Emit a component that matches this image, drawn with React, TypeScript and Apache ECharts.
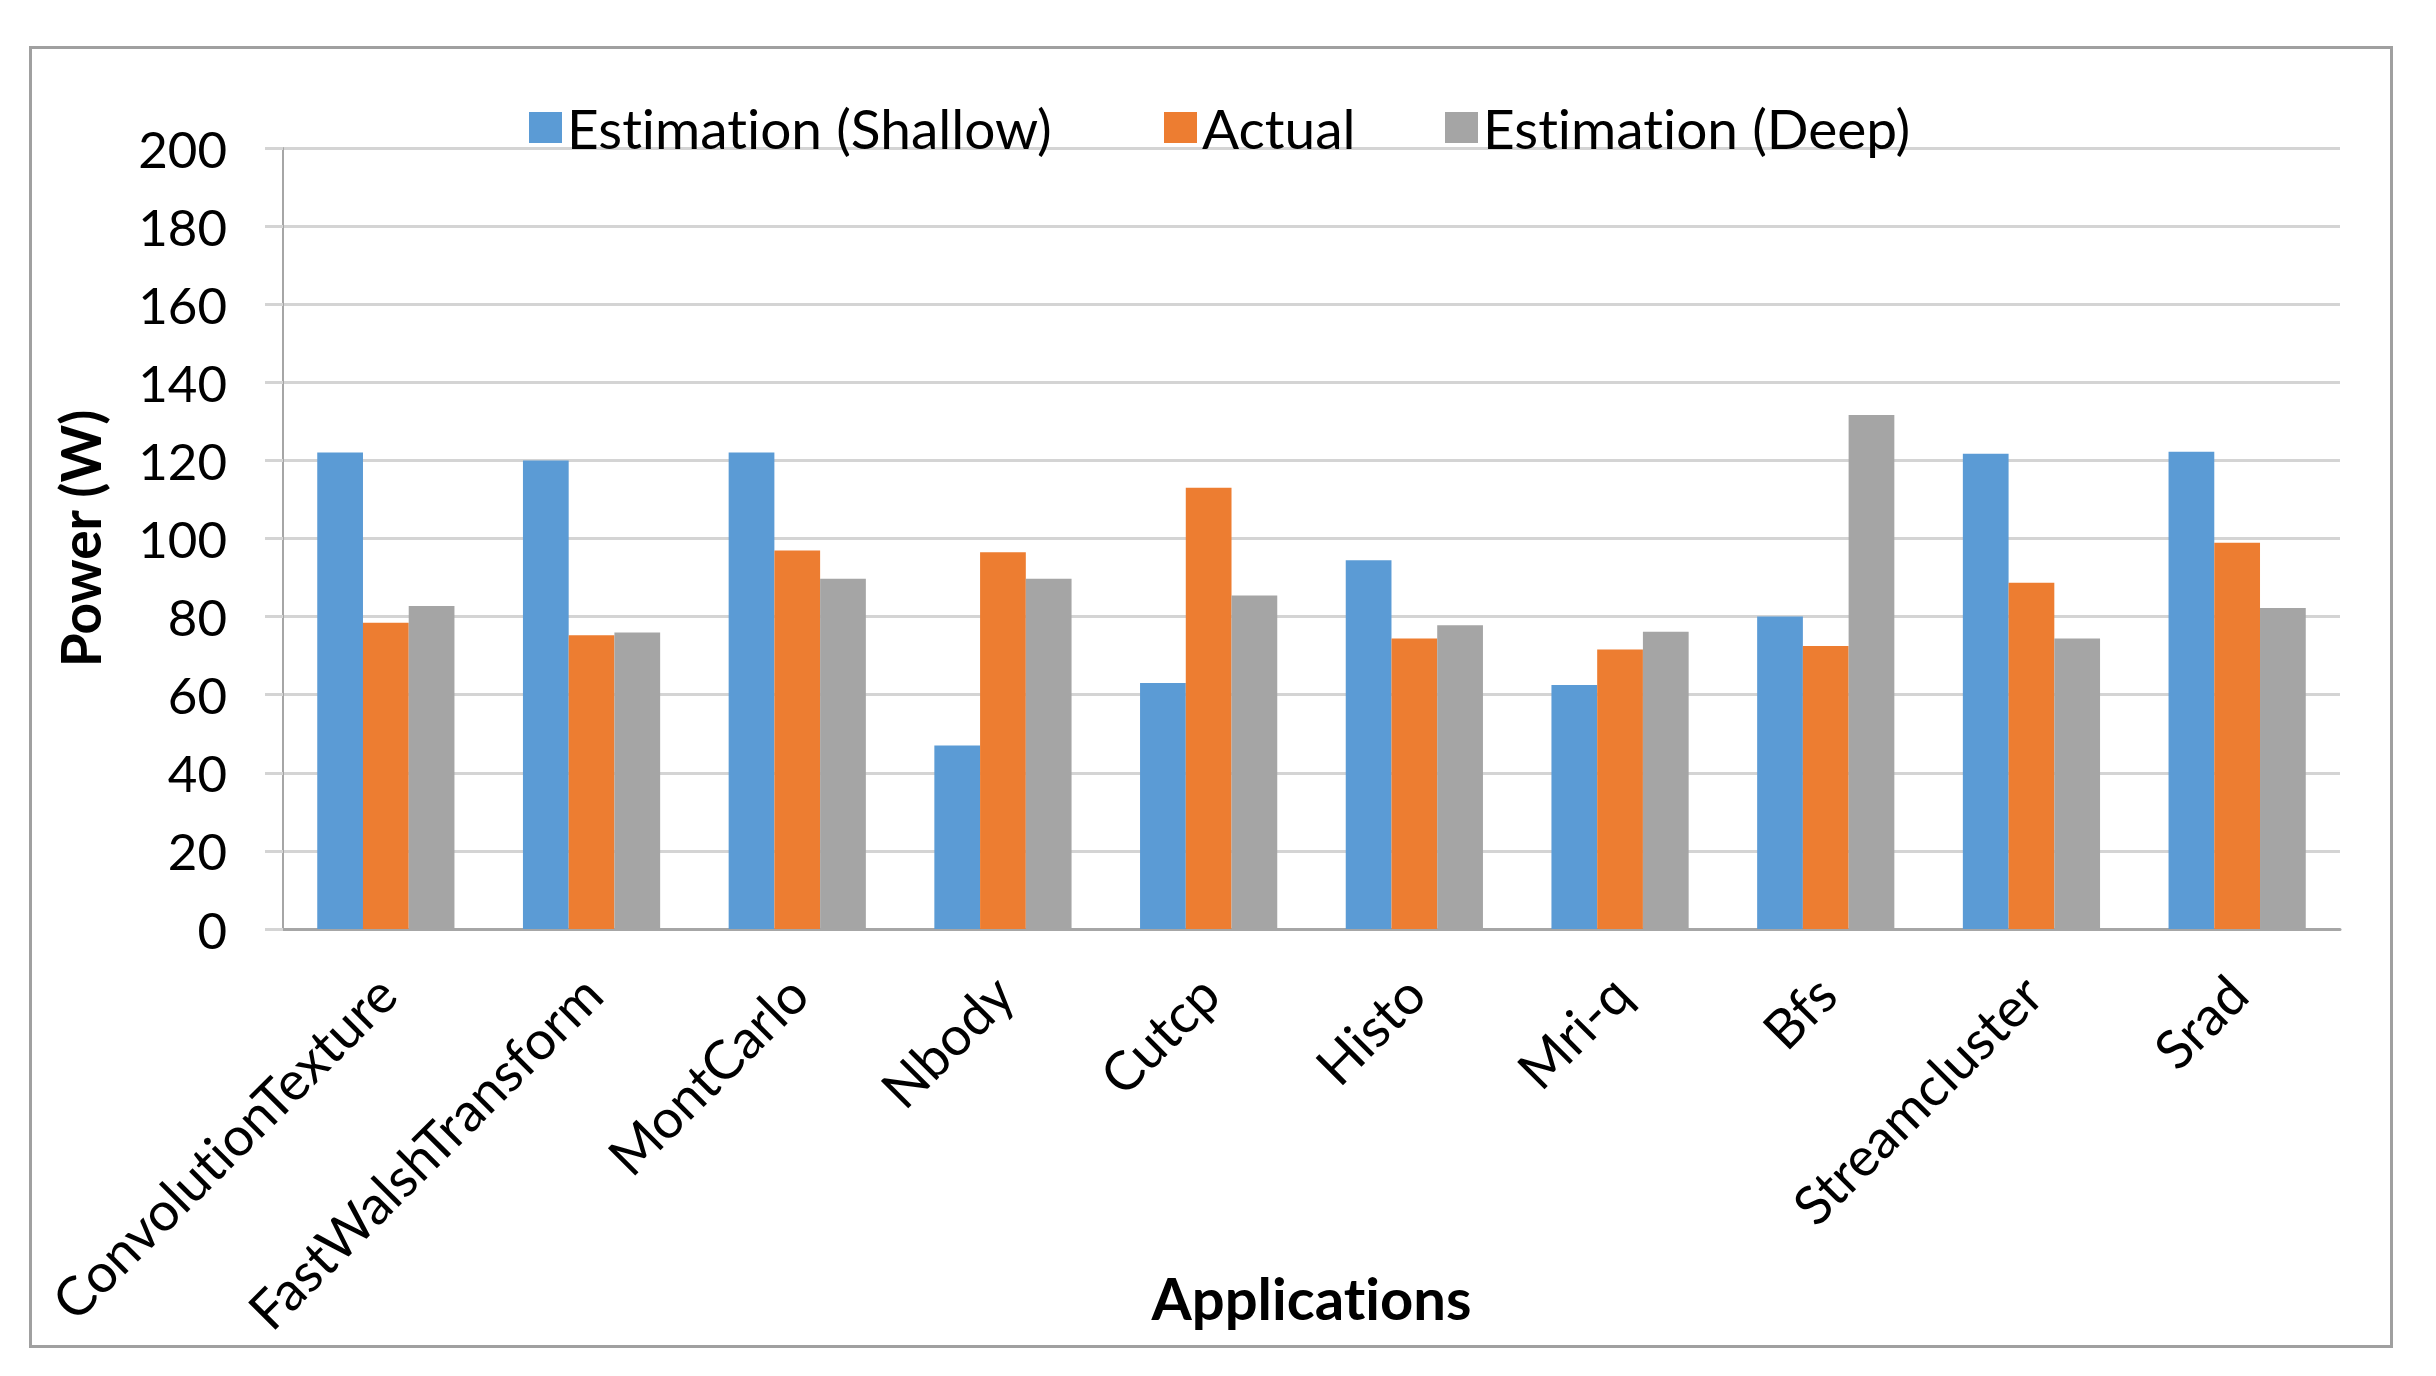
import React, { useEffect, useRef } from "react";
import * as echarts from "echarts";

const categories = [
  "ConvolutionTexture",
  "FastWalshTransform",
  "MontCarlo",
  "Nbody",
  "Cutcp",
  "Histo",
  "Mri-q",
  "Bfs",
  "Streamcluster",
  "Srad",
];
const shallow = [122, 120, 122, 47, 63, 94.4, 62.5, 80, 121.7, 122.2];
const actual = [78.4, 75.2, 96.9, 96.5, 113, 74.4, 71.6, 72.5, 88.7, 98.9];
const deep = [82.7, 75.9, 89.7, 89.7, 85.4, 77.8, 76.1, 131.6, 74.4, 82.2];
const seriesNames = ["Estimation (Shallow)", "Actual", "Estimation (Deep)"];
const colors = ["#5B9BD5", "#ED7D31", "#A5A5A5"];

const FONT = "Lato, 'Open Sans', sans-serif";

export default function App() {
  const ref = useRef<HTMLDivElement>(null);
  useEffect(() => {
    document.body.style.margin = "0";
    const styleEl = document.createElement("style");
    styleEl.textContent =
      "svg text { font-variant-ligatures: none; font-feature-settings: 'liga' 0, 'clig' 0; }";
    document.head.appendChild(styleEl);
    if (!ref.current) return;
    const chart = echarts.init(ref.current, undefined, { renderer: "svg" });
    const legendLefts = [524, 1159, 1440];
    const values = [shallow, actual, deep];
    chart.setOption({
      animation: false,
      backgroundColor: "#ffffff",
      textStyle: { fontFamily: FONT },
      graphic: [
        {
          type: "rect",
          shape: { x: 30.5, y: 47.5, width: 2361, height: 1299 },
          style: { fill: "none", stroke: "#A0A0A0", lineWidth: 3 },
          silent: true,
          z: -1,
        },
      ],
      legend: seriesNames.map((n, i) => ({
        data: [n],
        left: legendLefts[i],
        top: 95,
        itemWidth: 33,
        itemHeight: 31,
        itemGap: 18,
        icon: "rect",
        textStyle: { fontSize: 55, color: "#000", fontFamily: FONT, padding: [0, 0, 0, 0] },
      })),
      grid: {
        left: 283,
        right: 96,
        top: 148,
        bottom: 447,
        containLabel: false,
        outerBoundsMode: "none",
      },
      xAxis: {
        type: "category",
        data: categories,
        axisLine: { show: true, lineStyle: { color: "#A6A6A6", width: 3 } },
        axisTick: { show: false },
        axisLabel: {
          rotate: 45,
          interval: 0,
          fontSize: 54,
          color: "#000",
          margin: 55,
          fontFamily: FONT,
        },
        name: "Applications",
        nameLocation: "middle",
        nameGap: 339,
        nameMoveOverlap: false,
        nameTextStyle: { fontSize: 58, fontWeight: "bold", color: "#000", fontFamily: FONT },
      },
      yAxis: {
        type: "value",
        min: 0,
        max: 200,
        interval: 20,
        axisLine: { show: true, lineStyle: { color: "#A6A6A6", width: 2 } },
        axisTick: { show: true, length: 18, lineStyle: { color: "#D4D4D4", width: 3 } },
        splitLine: { show: true, lineStyle: { color: "#D4D4D4", width: 3 } },
        axisLabel: { fontSize: 51, color: "#000", margin: 56, fontFamily: FONT },
        name: "Power (W)",
        nameLocation: "middle",
        nameGap: 176,
        nameMoveOverlap: false,
        nameTextStyle: { fontSize: 55, fontWeight: "bold", color: "#000", fontFamily: FONT },
      },
      series: seriesNames.map((n, i) => ({
        name: n,
        type: "bar",
        data: values[i],
        barGap: "0%",
        barCategoryGap: "33.3%",
        itemStyle: { color: colors[i] },
      })),
    });
    return () => {
      chart.dispose();
      styleEl.remove();
    };
  }, []);
  return <div ref={ref} style={{ width: 2436, height: 1376 }} />;
}
